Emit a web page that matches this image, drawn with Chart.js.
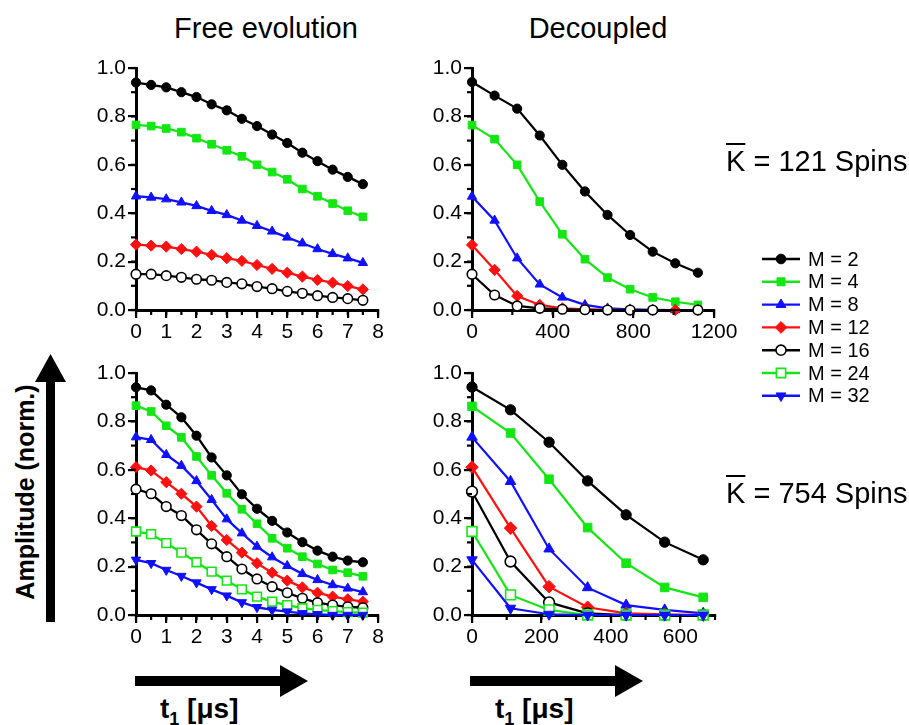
<!DOCTYPE html>
<html>
<head>
<meta charset="utf-8">
<script src="https://cdn.jsdelivr.net/npm/chart.js@4/dist/chart.umd.min.js"></script>
<style>
  body { margin: 0; background: #fff; }
  #fig { position: relative; width: 909px; height: 725px; overflow: hidden;
         font-family: "Liberation Sans", Arial, sans-serif; color: #000; }
  canvas { position: absolute; }
  .txt { position: absolute; white-space: nowrap; line-height: 1; }
  .title { font-size: 29px; transform: translateX(-50%); }
  .kbar { font-size: 29px; }
  .kbar span { text-decoration: overline; text-decoration-thickness: 2px; }
  .axlab { font-weight: bold; font-size: 25px; }
  .tlab { font-weight: bold; font-size: 28px; }
  .tlab sub { font-size: 18px; }
  svg { position: absolute; left: 0; top: 0; }
</style>
</head>
<body>
<div id="fig">
  <canvas id="freeTop" width="340" height="290" style="left:60px;top:50px"></canvas>
  <canvas id="decTop" width="340" height="290" style="left:400px;top:50px"></canvas>
  <canvas id="freeBot" width="340" height="290" style="left:60px;top:355px"></canvas>
  <canvas id="decBot" width="340" height="290" style="left:400px;top:355px"></canvas>
  <canvas id="legend" width="164" height="170" style="left:745px;top:240px"></canvas>

  <div class="txt title" style="left:266px;top:14px">Free evolution</div>
  <div class="txt title" style="left:598px;top:14px">Decoupled</div>
  <div class="txt kbar" style="left:726px;top:147px"><span>K</span> = 121 Spins</div>
  <div class="txt kbar" style="left:726px;top:479px"><span>K</span> = 754 Spins</div>

  <div class="txt axlab" style="left:25px;top:492px;transform:translate(-50%,-50%) rotate(-90deg)">Amplitude (norm.)</div>
  <div class="txt tlab" style="left:160px;top:695px">t<sub>1</sub> [μs]</div>
  <div class="txt tlab" style="left:495px;top:695px">t<sub>1</sub> [μs]</div>

  <svg width="909" height="725">
    <g fill="#000">
      <rect x="46" y="378" width="9" height="244"/>
      <polygon points="50.5,354 35,382 66,382"/>
      <rect x="135" y="676" width="148" height="10"/>
      <polygon points="308,681 280,665 280,697"/>
      <rect x="470" y="676" width="148" height="10"/>
      <polygon points="643,681 615,665 615,697"/>
    </g>
  </svg>
</div>

<script>
// sampling times
const tFree = [0, 0.5, 1, 1.5, 2, 2.5, 3, 3.5, 4, 4.5, 5, 5.5, 6, 6.5, 7, 7.5];
const tDec121 = [0, 112, 224, 336, 448, 560, 672, 784, 896, 1008, 1120];
const tDec754 = [0, 111, 222, 333, 444, 555, 666];
const mLabels = ['M = 2', 'M = 4', 'M = 8', 'M = 12', 'M = 16', 'M = 24', 'M = 32'];

// K = 121, free evolution
const free121M2 = [0.94, 0.93, 0.92, 0.90, 0.88, 0.85, 0.825, 0.79, 0.76, 0.725, 0.69, 0.65, 0.615, 0.58, 0.55, 0.52];
const free121M4 = [0.765, 0.76, 0.75, 0.735, 0.71, 0.685, 0.66, 0.635, 0.60, 0.57, 0.54, 0.50, 0.47, 0.44, 0.41, 0.385];
const free121M8 = [0.47, 0.465, 0.458, 0.445, 0.43, 0.41, 0.393, 0.37, 0.348, 0.325, 0.30, 0.276, 0.252, 0.232, 0.214, 0.195];
const free121M12 = [0.27, 0.266, 0.262, 0.252, 0.241, 0.228, 0.214, 0.203, 0.186, 0.17, 0.154, 0.138, 0.124, 0.113, 0.099, 0.085];
const free121M16 = [0.148, 0.148, 0.142, 0.135, 0.127, 0.123, 0.114, 0.108, 0.097, 0.088, 0.077, 0.069, 0.059, 0.052, 0.047, 0.04];

// K = 121, decoupled
const dec121M2 = [0.942, 0.886, 0.832, 0.721, 0.60, 0.49, 0.393, 0.31, 0.241, 0.193, 0.154];
const dec121M4 = [0.764, 0.706, 0.60, 0.448, 0.313, 0.21, 0.134, 0.086, 0.052, 0.034, 0.021];
const dec121M8 = [0.469, 0.37, 0.214, 0.106, 0.052, 0.021, 0.007, 0.003, 0.001, 0, 0];
const dec121M12 = [0.269, 0.166, 0.058, 0.021, 0.007, 0.003, 0.001, 0, 0, 0, 0];
const dec121M16 = [0.148, 0.062, 0.017, 0.007, 0.003, 0.001, 0, 0, 0, null, 0];

// K = 754, free evolution
const free754M2 = [0.941, 0.928, 0.869, 0.817, 0.741, 0.651, 0.577, 0.499, 0.439, 0.389, 0.341, 0.301, 0.266, 0.241, 0.225, 0.218];
const free754M4 = [0.865, 0.841, 0.782, 0.734, 0.655, 0.577, 0.503, 0.437, 0.377, 0.317, 0.276, 0.241, 0.211, 0.186, 0.175, 0.16];
const free754M8 = [0.735, 0.724, 0.662, 0.617, 0.554, 0.476, 0.396, 0.338, 0.283, 0.239, 0.203, 0.17, 0.145, 0.124, 0.11, 0.095];
const free754M12 = [0.611, 0.597, 0.549, 0.501, 0.448, 0.368, 0.31, 0.258, 0.214, 0.175, 0.142, 0.114, 0.092, 0.076, 0.065, 0.055];
const free754M16 = [0.52, 0.501, 0.448, 0.411, 0.352, 0.294, 0.241, 0.19, 0.149, 0.117, 0.092, 0.069, 0.051, 0.041, 0.034, 0.03];
const free754M24 = [0.345, 0.334, 0.297, 0.258, 0.218, 0.179, 0.142, 0.106, 0.076, 0.055, 0.041, 0.028, 0.021, 0.016, 0.012, 0.01];
const free754M32 = [0.228, 0.214, 0.186, 0.161, 0.134, 0.106, 0.08, 0.052, 0.032, 0.021, 0.014, 0.007, 0.003, 0, 0, 0];

// K = 754, decoupled
const dec754M2 = [0.942, 0.848, 0.714, 0.554, 0.414, 0.301, 0.228];
const dec754M4 = [0.862, 0.752, 0.561, 0.361, 0.214, 0.114, 0.073];
const dec754M8 = [0.735, 0.552, 0.273, 0.113, 0.041, 0.021, 0.007];
const dec754M12 = [0.611, 0.359, 0.117, 0.032, 0.007, 0.003, 0];
const dec754M16 = [0.51, 0.221, 0.052, 0.007, 0, 0, 0];
const dec754M24 = [0.345, 0.083, 0.021, 0, 0, 0, 0];
const dec754M32 = [0.228, 0.028, 0.003, 0, 0, 0, 0];

const GREEN = '#14e614', BLUE = '#1010ff', RED = '#ff1010', BLACK = '#000';

// marker style per M
const styles = [
  { color: BLACK, fill: BLACK, point: 'circle', rot: 0, r: 4.6 },
  { color: GREEN, fill: GREEN, point: 'rect', rot: 0, r: 5.4 },
  { color: BLUE, fill: BLUE, point: 'triangle', rot: 0, r: 5.4 },
  { color: RED, fill: RED, point: 'rectRot', rot: 0, r: 5.6 },
  { color: BLACK, fill: '#fff', point: 'circle', rot: 0, r: 4.8, open: true },
  { color: GREEN, fill: '#fff', point: 'rect', rot: 0, r: 6.2, open: true },
  { color: BLUE, fill: BLUE, point: 'triangle', rot: 180, r: 5.4 }
];

function makeSets(xs, series, lineW, scale) {
  return series.map((ys, i) => {
    const s = styles[i];
    return {
      label: mLabels[i],
      data: xs.map((x, k) => ({ x: x, y: ys[k] })),
      borderColor: s.color,
      borderWidth: lineW,
      pointStyle: s.point,
      rotation: s.rot,
      pointRadius: s.r * scale,
      pointBackgroundColor: s.fill,
      pointBorderColor: s.color,
      pointBorderWidth: s.open ? 1.6 : 1,
      spanGaps: true,
      clip: false,
      order: -i
    };
  });
}

// short ticks between the labelled ones
const minorTicks = {
  id: 'minorTicks',
  afterDraw(chart, args, opts) {
    const { ctx, scales: { x, y } } = chart;
    ctx.save();
    ctx.strokeStyle = '#000';
    ctx.lineWidth = 2.2;
    for (let k = 0; k * opts.xMinor <= x.max + 1e-9; k++) {
      const px = x.getPixelForValue(k * opts.xMinor);
      ctx.beginPath(); ctx.moveTo(px, y.bottom); ctx.lineTo(px, y.bottom + 5); ctx.stroke();
    }
    for (let k = 0; k * 0.1 <= 1 + 1e-9; k++) {
      const py = y.getPixelForValue(k * 0.1);
      ctx.beginPath(); ctx.moveTo(x.left, py); ctx.lineTo(x.left - 5, py); ctx.stroke();
    }
    ctx.restore();
  }
};

const tickFont = { family: '"Liberation Sans", Arial, sans-serif', size: 21 };

function panel(id, xs, series, xMax, xStep, xMinor, lineW, mScale, padRight) {
  new Chart(document.getElementById(id), {
    type: 'line',
    data: { datasets: makeSets(xs, series, lineW, mScale) },
    plugins: [minorTicks],
    options: {
      responsive: false,
      animation: false,
      events: [],
      layout: { padding: { left: 0, right: padRight, top: 18, bottom: 0 } },
      plugins: { legend: { display: false }, tooltip: { enabled: false }, minorTicks: { xMinor: xMinor } },
      scales: {
        x: {
          type: 'linear', min: 0, max: xMax,
          border: { display: true, width: 3, color: '#000' },
          grid: { drawOnChartArea: false, tickLength: 8, lineWidth: 2.2, color: '#000' },
          ticks: { stepSize: xStep, includeBounds: false, color: '#000', font: tickFont, padding: 2, maxRotation: 0,
                   callback: v => String(v) },
          afterFit(s) { s.height = 30; s.paddingLeft = 0; s.paddingRight = 0; }
        },
        y: {
          min: 0, max: 1,
          border: { display: true, width: 3, color: '#000' },
          grid: { drawOnChartArea: false, tickLength: 8, lineWidth: 2.2, color: '#000' },
          ticks: { stepSize: 0.2, color: '#000', font: tickFont, padding: 2, callback: v => v.toFixed(1) },
          afterFit(s) { s.width = id.startsWith('free') ? 76 : 72; s.paddingTop = 0; s.paddingBottom = 0; }
        }
      }
    }
  });
}

panel('freeTop', tFree, [free121M2, free121M4, free121M8, free121M12, free121M16], 8, 1, 0.5, 2.3, 1, 22);
panel('decTop', tDec121, [dec121M2, dec121M4, dec121M8, dec121M12, dec121M16], 1200, 400, 200, 2.2, 1, 26);
panel('freeBot', tFree, [free754M2, free754M4, free754M8, free754M12, free754M16, free754M24, free754M32], 8, 1, 0.5, 2.3, 1, 22);
panel('decBot', tDec754, [dec754M2, dec754M4, dec754M8, dec754M12, dec754M16, dec754M24, dec754M32], 700, 200, 100, 2.2, 1.12, 25);

// legend: line sample + marker + label
(function () {
  const ctx = document.getElementById('legend').getContext('2d');
  ctx.font = '20px "Liberation Sans", Arial, sans-serif';
  ctx.textBaseline = 'middle';
  mLabels.forEach((lab, i) => {
    const s = styles[i];
    const y = 19 + i * 22.8;
    ctx.strokeStyle = s.color;
    ctx.lineWidth = 2.4;
    ctx.beginPath(); ctx.moveTo(17, y); ctx.lineTo(55, y); ctx.stroke();
    ctx.fillStyle = s.fill;
    ctx.strokeStyle = s.color;
    ctx.lineWidth = s.open ? 1.6 : 1;
    Chart.helpers.drawPoint(ctx, { pointStyle: s.point, rotation: s.rot, radius: s.r * 1.05, borderWidth: ctx.lineWidth }, 36, y);
    ctx.fillStyle = '#000';
    ctx.fillText(lab, 63, y + 1);
  });
})();
</script>
</body>
</html>
